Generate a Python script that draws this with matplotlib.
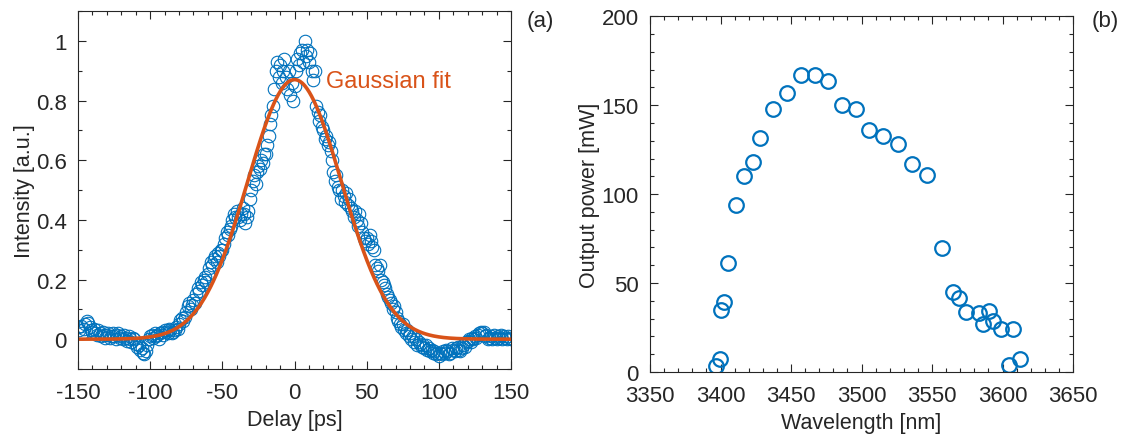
import numpy as np
import matplotlib.pyplot as plt
from matplotlib.ticker import MultipleLocator

plt.rcParams['font.family'] = ['Liberation Sans', 'DejaVu Sans']
plt.rcParams['axes.unicode_minus'] = False

# (a) autocorrelation trace, delay in ps (1 ps step), intensity
delay_start, delay_stop = -150, 150
intensity = [
    0.04, 0.03, 0.045, 0.02, 0.035, 0.05, 0.06, 0.055, 0.04, 0.03,
    0.025, 0.035, 0.02, 0.015, 0.03, 0.02, 0.01, 0.025, 0.015, 0.005,
    0.015, 0.02, 0.005, 0.01, 0.02, 0.01, 0.0, 0.015, 0.02, 0.005,
    0.01, 0.0, 0.015, 0.005, -0.005, 0.01, 0.0, -0.01, 0.005, 0.0,
    -0.015, -0.025, -0.02, -0.035, -0.03, -0.045, -0.05, -0.04, -0.02, 0.0,
    0.01, 0.015, 0.005, 0.02, 0.01, 0.015, 0.0, 0.02, 0.025, 0.015,
    0.03, 0.025, 0.02, 0.035, 0.03, 0.02, 0.025, 0.03, 0.04, 0.035,
    0.05, 0.065, 0.07, 0.06, 0.075, 0.09, 0.11, 0.12, 0.1, 0.115,
    0.13, 0.12, 0.15, 0.17, 0.16, 0.19, 0.18, 0.2, 0.21, 0.19,
    0.22, 0.24, 0.26, 0.25, 0.27, 0.28, 0.26, 0.29, 0.28, 0.3,
    0.3, 0.32, 0.34, 0.36, 0.35, 0.37, 0.38, 0.4, 0.42, 0.41,
    0.43, 0.41, 0.4, 0.42, 0.44, 0.42, 0.39, 0.41, 0.43, 0.47,
    0.5, 0.53, 0.55, 0.52, 0.56, 0.58, 0.57, 0.6, 0.59, 0.62,
    0.62, 0.65, 0.68, 0.72, 0.75, 0.78, 0.84, 0.9, 0.93, 0.88,
    0.92, 0.86, 0.9, 0.94, 0.88, 0.84, 0.9, 0.82, 0.86, 0.8,
    0.85, 0.9, 0.94, 0.92, 0.96, 0.97, 0.93, 1.0, 0.95, 0.97,
    0.93, 0.96, 0.9, 0.87, 0.9, 0.78, 0.76, 0.73, 0.75, 0.71,
    0.7, 0.67, 0.68, 0.65, 0.66, 0.63, 0.6, 0.56, 0.53, 0.55,
    0.51, 0.5, 0.47, 0.5, 0.48, 0.46, 0.49, 0.45, 0.47, 0.44,
    0.43, 0.41, 0.43, 0.4, 0.38, 0.42, 0.39, 0.36, 0.34, 0.33,
    0.34, 0.32, 0.35, 0.33, 0.31, 0.3, 0.25, 0.24, 0.23, 0.25,
    0.2, 0.19, 0.18, 0.17, 0.15, 0.14, 0.13, 0.12, 0.1, 0.11,
    0.09, 0.07, 0.06, 0.05, 0.04, 0.05, 0.03, 0.02, 0.03, 0.01,
    0.02, 0.0, 0.01, -0.01, 0.0, -0.02, -0.01, -0.015, -0.025, -0.02,
    -0.03, -0.02, -0.035, -0.03, -0.04, -0.035, -0.045, -0.04, -0.05, -0.045,
    -0.055, -0.045, -0.05, -0.04, -0.045, -0.035, -0.04, -0.05, -0.045, -0.03,
    -0.035, -0.04, -0.03, -0.025, -0.035, -0.04, -0.03, -0.02, -0.025, -0.01,
    -0.005, 0.0, -0.01, 0.005, 0.0, 0.01, 0.005, 0.015, 0.02, 0.025,
    0.02, 0.025, 0.01, 0.015, 0.0, 0.005, 0.01, 0.0, 0.015, 0.005,
    0.0, 0.01, 0.005, 0.015, 0.0, 0.01, 0.005, 0.0, 0.01, 0.005,
    0.0,
]
delay = np.arange(delay_start, delay_stop + 1, 1)

# gaussian fit parameters (peak, centre, sigma in ps)
fit_amp, fit_center, fit_sigma = 0.87, 0.0, 32.5

# (b) tuning curve
wavelength = [3396.7, 3399.5, 3400.5, 3402.6, 3405.4, 3411.3, 3416.4, 3422.8,
              3428.2, 3437.4, 3447.2, 3457.2, 3467.2, 3476.2, 3486.2, 3495.9,
              3505.4, 3514.9, 3525.9, 3535.9, 3546.2, 3556.9, 3565.1, 3569.0,
              3574.4, 3583.3, 3586.4, 3590.5, 3593.3, 3598.7, 3607.2, 3604.6,
              3612.1]
power = [3.5, 7.4, 34.7, 39.5, 61.4, 93.6, 110.3, 118.3,
         131.4, 148.1, 157.0, 167.0, 167.0, 163.7, 150.1, 148.1,
         135.9, 132.5, 128.1, 117.0, 110.5, 69.5, 44.9, 41.7,
         33.7, 33.2, 26.9, 34.1, 28.4, 23.9, 23.9, 3.7,
         7.4]

blue = '#0072BD'
orange = '#D95319'
dark = '#262626'

fig = plt.figure(figsize=(11.26, 4.35), dpi=100)
ax1 = fig.add_axes([0.0693, 0.1494, 0.3845, 0.823])
ax2 = fig.add_axes([0.5773, 0.1425, 0.3757, 0.818])


def style_axes(ax):
    ax.tick_params(which='both', direction='in', top=True, right=True,
                   labelsize=16, colors=dark, width=0.8)
    ax.tick_params(which='major', length=6)
    ax.tick_params(which='minor', length=3)
    ax.tick_params(axis='x', which='major', pad=9)
    ax.tick_params(axis='y', which='major', pad=8)
    for s in ax.spines.values():
        s.set_color(dark)
        s.set_linewidth(0.8)


# panel (a)
ax1.plot(delay, intensity, 'o', mfc='none', mec=blue, ms=9, mew=0.8)
xfit = np.linspace(delay_start, delay_stop, 600)
yfit = fit_amp * np.exp(-(xfit - fit_center) ** 2 / (2 * fit_sigma ** 2))
ax1.plot(xfit, yfit, color=orange, lw=2.6)
ax1.text(22, 0.865, 'Gaussian fit', color=orange, fontsize=17,
         ha='left', va='center')
ax1.set_xlim(-150, 150)
ax1.set_ylim(-0.1, 1.1)
ax1.set_xticks([-150, -100, -50, 0, 50, 100, 150])
ax1.set_yticks([0, 0.2, 0.4, 0.6, 0.8, 1])
ax1.set_yticklabels(['0', '0.2', '0.4', '0.6', '0.8', '1'])
ax1.xaxis.set_minor_locator(MultipleLocator(10))
ax1.yaxis.set_minor_locator(MultipleLocator(0.1))
ax1.set_xlabel('Delay [ps]', fontsize=15.5, color=dark, labelpad=5)
ax1.set_ylabel('Intensity [a.u.]', fontsize=15.5, color=dark, labelpad=1)
style_axes(ax1)

# panel (b)
ax2.plot(wavelength, power, 'o', mfc='none', mec=blue, ms=10.5, mew=1.6)
ax2.set_xlim(3350, 3650)
ax2.set_ylim(0, 200)
ax2.set_xticks(np.arange(3350, 3651, 50))
ax2.set_yticks(np.arange(0, 201, 50))
ax2.xaxis.set_minor_locator(MultipleLocator(10))
ax2.yaxis.set_minor_locator(MultipleLocator(10))
ax2.set_xlabel('Wavelength [nm]', fontsize=15.5, color=dark, labelpad=5)
ax2.set_ylabel('Output power [mW]', fontsize=15.5, color=dark, labelpad=1)
style_axes(ax2)

fig.text(540 / 1126, 1 - 22 / 435, '(a)', fontsize=16, color=dark,
         ha='center', va='center')
fig.text(1105 / 1126, 1 - 22 / 435, '(b)', fontsize=16, color=dark,
         ha='center', va='center')

fig.savefig('out.png', dpi=100)
